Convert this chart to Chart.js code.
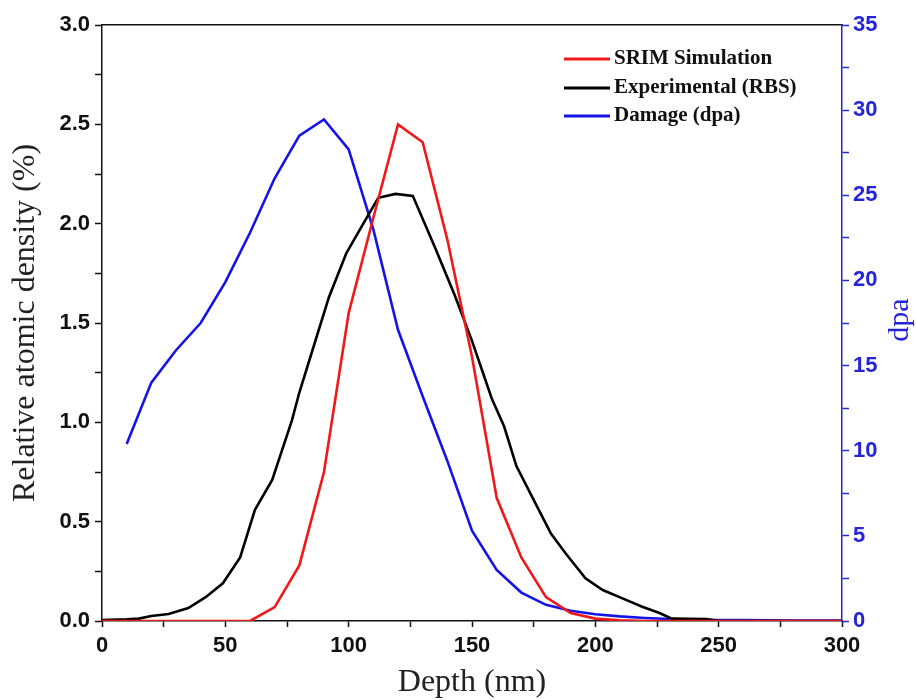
<!DOCTYPE html>
<html>
<head>
<meta charset="utf-8">
<script src="https://cdn.jsdelivr.net/npm/chart.js@4.4.1/dist/chart.umd.min.js"></script>
<style>
  body { margin: 0; background: #fff; }
  #wrap { width: 916px; height: 700px; }
</style>
</head>
<body>
<div id="wrap"><canvas id="chart" width="916" height="700"></canvas></div>
<script>
// depth (nm) and relative atomic density (%) - SRIM simulation
const srimDepth = [0, 10, 20, 30, 40, 50, 60, 70, 80, 90, 100, 110, 120, 130, 140, 150, 160, 170, 180, 190, 200, 210, 220, 230, 240, 250, 260, 270, 280, 290, 300];
const srimValues = [0, 0, 0, 0, 0, 0, 0, 0.07, 0.28, 0.75, 1.55, 2.03, 2.50, 2.41, 1.92, 1.33, 0.62, 0.32, 0.12, 0.04, 0.012, 0.003, 0, 0, 0, 0, 0, 0, 0, 0, 0];

// experimental RBS profile (irregular depth points)
const rbsDepth = [0, 10, 15, 20, 27, 35, 42, 49, 56, 62, 69, 73, 77, 80, 84, 92, 99, 105, 112, 119, 126, 135, 143, 150, 158, 163, 168, 175, 182, 188, 196, 203, 211, 219, 226, 231, 245, 250, 300];
const rbsValues = [0.005, 0.008, 0.012, 0.025, 0.035, 0.065, 0.12, 0.19, 0.32, 0.56, 0.71, 0.86, 1.01, 1.15, 1.31, 1.63, 1.85, 1.98, 2.13, 2.15, 2.14, 1.88, 1.64, 1.41, 1.12, 0.98, 0.78, 0.61, 0.44, 0.34, 0.215, 0.156, 0.114, 0.072, 0.04, 0.012, 0.01, 0, 0];

// damage (dpa), right axis
const dpaDepth = [10, 20, 30, 40, 50, 60, 70, 80, 90, 100, 110, 120, 130, 140, 150, 160, 170, 180, 190, 200, 210, 220, 230, 240, 250, 260, 270, 280, 290, 300];
const dpaValues = [10.4, 14.0, 15.9, 17.5, 19.9, 22.8, 26.0, 28.5, 29.45, 27.7, 23.0, 17.1, 13.2, 9.4, 5.3, 3.0, 1.67, 0.95, 0.6, 0.4, 0.27, 0.18, 0.12, 0.08, 0.06, 0.05, 0.04, 0.03, 0.02, 0.02];

const seriesLabels = ['SRIM Simulation', 'Experimental (RBS)', 'Damage (dpa)'];

const toPoints = (xs, ys) => xs.map((x, i) => ({ x: x, y: ys[i] }));

const BLUE = '#1414e6';
const AXIS_BLUE = '#2424d8';

// legend drawn inside the plot area, top right
const innerLegend = {
  id: 'innerLegend',
  afterDraw(chart) {
    const ctx = chart.ctx;
    const x0 = 564, x1 = 610, tx = 614;
    const rows = [59, 88, 116];
    ctx.save();
    ctx.font = 'bold 21px "Liberation Serif"';
    ctx.textBaseline = 'middle';
    ctx.textAlign = 'left';
    chart.data.datasets.forEach((ds, i) => {
      ctx.strokeStyle = ds.borderColor;
      ctx.lineWidth = 3;
      ctx.beginPath();
      ctx.moveTo(x0, rows[i]);
      ctx.lineTo(x1, rows[i]);
      ctx.stroke();
      ctx.fillStyle = '#111';
      ctx.fillText(ds.label, tx, rows[i]);
    });
    // right axis title, reads bottom to top
    ctx.translate(900, 320);
    ctx.rotate(-Math.PI / 2);
    ctx.font = '30px "Liberation Serif"';
    ctx.textAlign = 'center';
    ctx.fillStyle = AXIS_BLUE;
    ctx.fillText('dpa', 0, 0);
    ctx.restore();
  }
};

const tickFont = { family: 'Liberation Sans', size: 22, weight: 'bold' };

new Chart(document.getElementById('chart'), {
  type: 'line',
  data: {
    datasets: [
      {
        label: seriesLabels[0],
        data: toPoints(srimDepth, srimValues),
        borderColor: '#f01818',
        borderWidth: 2.6,
        pointRadius: 0,
        yAxisID: 'y'
      },
      {
        label: seriesLabels[1],
        data: toPoints(rbsDepth, rbsValues),
        borderColor: '#000000',
        borderWidth: 2.6,
        pointRadius: 0,
        yAxisID: 'y'
      },
      {
        label: seriesLabels[2],
        data: toPoints(dpaDepth, dpaValues),
        borderColor: BLUE,
        borderWidth: 2.6,
        pointRadius: 0,
        yAxisID: 'y1'
      }
    ]
  },
  options: {
    responsive: false,
    animation: false,
    layout: { padding: 0 },
    plugins: {
      legend: { display: false },
      tooltip: { enabled: false }
    },
    scales: {
      x: {
        type: 'linear',
        position: 'bottom',
        min: 0,
        max: 300,
        afterFit: s => { s.height = 79; },
        border: { color: '#111', width: 1.5 },
        grid: { drawOnChartArea: false, tickLength: 6, tickWidth: 1.5, tickColor: '#111' },
        ticks: {
          stepSize: 25,
          maxRotation: 0,
          autoSkip: false,
          padding: 6,
          color: '#111',
          font: tickFont,
          callback: v => (v % 50 === 0 ? v : '')
        },
        title: {
          display: true,
          text: 'Depth (nm)',
          color: '#222',
          font: { family: 'Liberation Serif', size: 32, lineHeight: 1.1 },
          padding: { top: 0, bottom: 0 }
        }
      },
      xTop: {
        type: 'linear',
        position: 'top',
        min: 0,
        max: 300,
        afterFit: s => { s.height = 25; },
        border: { color: '#111', width: 1.5 },
        grid: { drawOnChartArea: false, drawTicks: false },
        ticks: { display: false }
      },
      y: {
        position: 'left',
        min: 0,
        max: 3,
        afterFit: s => { s.width = 102; },
        border: { color: '#111', width: 1.5 },
        grid: { drawOnChartArea: false, tickLength: 7, tickWidth: 1.5, tickColor: '#111' },
        ticks: {
          stepSize: 0.25,
          autoSkip: false,
          padding: 5,
          color: '#111',
          font: tickFont,
          callback: v => (Math.abs(v * 2 - Math.round(v * 2)) < 1e-6 ? v.toFixed(1) : '')
        },
        title: {
          display: true,
          text: 'Relative atomic density (%)',
          color: '#222',
          font: { family: 'Liberation Serif', size: 32, lineHeight: 1.1 },
          padding: { top: 8, bottom: 0 }
        }
      },
      y1: {
        position: 'right',
        min: 0,
        max: 35,
        afterFit: s => { s.width = 74; },
        border: { color: AXIS_BLUE, width: 1.5 },
        grid: { drawOnChartArea: false, tickLength: 7, tickWidth: 1.5, tickColor: AXIS_BLUE },
        ticks: {
          stepSize: 2.5,
          autoSkip: false,
          padding: 4,
          color: AXIS_BLUE,
          font: tickFont,
          callback: v => (v % 5 === 0 ? v : '')
        }
      }
    }
  },
  plugins: [innerLegend]
});
</script>
</body>
</html>
